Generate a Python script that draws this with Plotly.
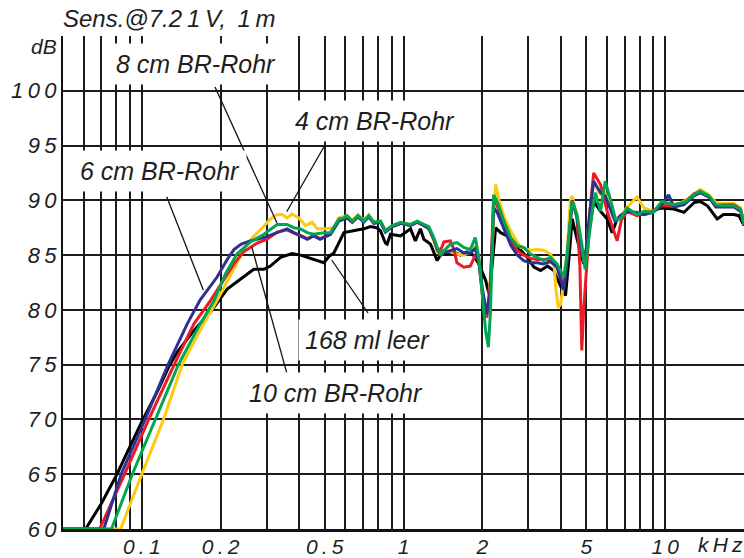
import math
import plotly.graph_objects as go

# ---------------- data (frequency in kHz, level in dB) ----------------
leer_168ml = [(0.05,60),(0.061,60),(0.07,62.3),(0.0804,65),(0.09,67.5),(0.101,70),(0.115,72.6),(0.128,75),
    (0.137,76.2),(0.158,78.1),(0.183,79.8),(0.212,81.9),(0.238,82.8),(0.268,83.7),(0.293,83.7),(0.31,84.0),
    (0.339,84.8),(0.375,85.15),(0.404,85.0),(0.454,84.6),(0.496,84.3),(0.52,84.9),(0.542,85.2),(0.592,87.05),
    (0.646,87.2),(0.705,87.4),(0.748,87.6),(0.79,87.5),(0.817,87.2),(0.853,86.1),(0.866,86.0),(0.892,86.9),
    (0.974,86.75),(1.064,87.4),(1.11,86.3),(1.16,87.4),(1.196,86.45),(1.268,86.0),(1.345,84.5),(1.4,85.2),
    (1.47,85.1),(1.55,85.3),(1.65,85.0),(1.75,85.3),(1.85,85.0),(1.94,84.2),(2.06,82.7),(2.12,81.45),
    (2.16,83.0),(2.25,87.5),(2.35,87.05),(2.49,86.75),(2.64,86.15),(2.8,85.5),(2.97,84.8),(3.15,83.9),
    (3.34,83.6),(3.55,84.0),(3.75,83.6),(3.98,82.2),(4.16,81.3),(4.3,85.0),(4.41,88.3),(4.6,86.5),
    (4.88,84.2),(5.03,86.0),(5.33,89.9),(5.66,89.0),(6.0,88.3),(6.27,87.05),(6.55,88.3),(7.16,89.0),
    (8.05,88.7),(8.8,89.0),(9.63,89.3),(10.8,89.2),(11.8,88.9),(12.9,89.8),(13.6,89.9),(14.5,89.5),
    (15.8,88.3),(16.7,88.7),(18.3,88.7),(19.1,88.6),(20,87.7)]

rohr_4cm = [(0.05,60),(0.083,60),(0.1,65),(0.121,70),(0.1427,75),(0.172,78.7),(0.194,80.85),(0.212,82.6),
    (0.231,84.3),(0.252,86.0),(0.27,86.8),(0.284,87.3),(0.31,88.3),(0.329,88.7),(0.344,88.7),(0.359,88.4),
    (0.375,88.75),(0.398,88.4),(0.422,87.7),(0.448,88.0),(0.468,87.4),(0.503,87.4),(0.542,87.5),(0.566,88.4),
    (0.609,88.6),(0.637,88.2),(0.67,88.7),(0.705,88.2),(0.737,88.7),(0.77,88.0),(0.817,88.1),(0.853,87.3),
    (0.905,87.6),(0.974,87.9),(1.064,87.7),(1.128,88.0),(1.196,87.7),(1.25,87.4),(1.306,86.3),(1.345,85.3),
    (1.39,85.0),(1.426,85.3),(1.51,85.3),(1.6,85.1),(1.7,85.0),(1.8,85.3),(1.88,85.8),(1.94,84.6),
    (2.0,81.5),(2.08,79.3),(2.15,83.0),(2.25,91.45),(2.32,90.0),(2.42,88.5),(2.57,87.2),(2.8,85.7),
    (3.06,85.45),(3.24,85.5),(3.43,85.45),(3.64,85.1),(3.75,84.5),(3.82,82.0),(3.9,80.2),(3.98,80.5),
    (4.1,82.5),(4.22,85.5),(4.34,90.0),(4.41,90.4),(4.6,88.6),(4.8,85.5),(4.94,84.0),(5.15,89.0),
    (5.33,91.6),(5.66,90.5),(5.9,90.6),(6.19,89.5),(6.45,88.3),(6.73,88.5),(7.16,89.4),(7.8,90.3),
    (8.3,89.3),(9.0,89.0),(9.7,89.8),(10.8,89.6),(11.8,89.9),(12.9,90.6),(13.6,91.0),(14.7,90.5),
    (15.6,89.8),(16.7,89.7),(18.3,89.7),(19.4,89.3),(20,87.8)]

rohr_10cm = [(0.05,60),(0.069,60),(0.086,65),(0.1063,70),(0.133,75),(0.158,78.7),(0.183,80.85),(0.209,83.0),
    (0.225,84.2),(0.245,85.3),(0.276,86.1),(0.301,86.45),(0.329,87.1),(0.359,87.3),(0.381,87.0),(0.404,86.8),
    (0.429,86.5),(0.454,86.8),(0.48,86.5),(0.526,86.9),(0.566,88.2),(0.609,88.4),(0.637,88.0),(0.67,88.5),
    (0.705,88.1),(0.737,88.5),(0.77,88.0),(0.817,88.0),(0.853,87.2),(0.905,87.6),(0.974,87.9),(1.064,87.7),
    (1.128,88.0),(1.196,87.7),(1.25,87.5),(1.306,86.4),(1.345,85.6),(1.39,85.5),(1.426,86.2),(1.51,86.3),
    (1.56,85.5),(1.6,84.3),(1.7,83.9),(1.8,84.0),(1.88,85.0),(1.94,84.5),(2.0,81.5),(2.08,79.3),
    (2.15,82.5),(2.21,90.3),(2.28,89.5),(2.42,87.6),(2.57,86.2),(2.72,85.4),(2.88,85.0),(3.06,84.7),
    (3.24,84.6),(3.43,84.6),(3.64,84.6),(3.86,84.0),(4.1,82.1),(4.22,84.8),(4.41,89.9),(4.6,88.5),
    (4.72,84.0),(4.8,76.3),(4.88,80.0),(5.03,84.5),(5.2,90.0),(5.33,92.5),(5.66,91.45),(6.0,89.0),
    (6.3,87.5),(6.55,86.3),(6.8,88.2),(7.16,89.0),(7.8,88.6),(8.3,88.8),(9.0,89.0),(9.7,89.5),
    (10.8,89.5),(11.8,89.7),(12.9,90.6),(13.6,90.8),(14.7,90.3),(15.6,89.5),(16.7,89.6),(18.3,89.6),
    (19.4,89.2),(20,87.8)]

rohr_6cm = [(0.05,60),(0.0716,60),(0.0834,65),(0.103,70),(0.126,75),(0.149,78.7),(0.167,80.9),(0.194,83.0),
    (0.212,84.6),(0.225,85.5),(0.24,86.0),(0.26,86.3),(0.293,86.6),(0.329,87.05),(0.359,87.4),(0.381,87.05),
    (0.404,86.75),(0.429,86.45),(0.454,86.75),(0.48,86.45),(0.526,86.9),(0.566,88.1),(0.609,88.4),(0.637,88.0),
    (0.67,88.5),(0.705,88.0),(0.737,88.5),(0.77,87.9),(0.817,88.0),(0.853,87.1),(0.905,87.6),(0.974,87.9),
    (1.064,87.7),(1.128,88.0),(1.196,87.7),(1.25,87.4),(1.306,86.5),(1.345,85.5),(1.39,85.0),(1.426,85.2),
    (1.51,85.4),(1.6,85.6),(1.7,85.2),(1.8,85.2),(1.88,85.6),(1.94,84.4),(2.0,82.0),(2.08,79.6),
    (2.15,82.0),(2.21,89.3),(2.28,88.9),(2.42,87.4),(2.57,85.9),(2.72,85.0),(2.88,84.5),(3.06,84.3),
    (3.24,84.3),(3.43,84.2),(3.64,84.4),(3.86,83.9),(4.1,81.8),(4.22,84.5),(4.41,90.0),(4.6,88.5),
    (4.8,85.5),(4.94,84.2),(5.15,89.0),(5.33,91.75),(5.66,90.7),(5.9,90.4),(6.19,89.2),(6.45,88.0),
    (6.73,88.6),(7.16,89.0),(7.8,88.9),(8.3,88.7),(9.0,88.9),(9.7,89.6),(10.3,90.5),(10.8,89.4),
    (11.8,89.6),(12.9,90.4),(13.6,90.7),(14.7,90.3),(15.6,89.4),(16.7,89.4),(18.3,89.4),(19.4,89.0),
    (20,87.8)]

rohr_8cm = [(0.05,60),(0.0766,60),(0.092,65),(0.113,70),(0.138,75),(0.167,78.7),(0.189,80.85),(0.209,83.3),
    (0.231,85.1),(0.26,86.2),(0.293,86.9),(0.329,87.8),(0.359,87.8),(0.381,87.5),(0.404,87.4),(0.429,87.05),
    (0.454,86.9),(0.496,87.05),(0.526,87.05),(0.566,88.3),(0.592,88.4),(0.609,88.6),(0.637,88.1),(0.67,88.6),
    (0.705,88.1),(0.737,88.6),(0.77,88.0),(0.817,88.1),(0.853,87.2),(0.905,87.7),(0.974,88.0),(1.064,87.8),
    (1.128,88.1),(1.196,87.8),(1.25,87.6),(1.306,86.6),(1.345,85.7),(1.39,85.1),(1.426,85.4),(1.51,86.0),
    (1.6,86.15),(1.7,85.7),(1.8,85.5),(1.88,86.6),(1.94,84.8),(2.0,81.1),(2.06,78.1),(2.11,76.6),
    (2.15,79.9),(2.21,90.5),(2.28,89.9),(2.42,88.1),(2.57,86.6),(2.72,85.85),(2.88,85.7),(3.06,85.1),
    (3.24,84.8),(3.43,84.5),(3.64,84.8),(3.86,84.2),(4.1,83.0),(4.22,85.1),(4.41,89.9),(4.6,88.7),
    (4.8,86.0),(4.94,83.7),(5.26,89.0),(5.41,90.7),(5.66,89.0),(5.9,91.75),(6.19,90.0),(6.45,88.3),
    (6.73,88.3),(7.16,89.3),(7.8,88.7),(8.3,89.0),(9.0,88.9),(9.7,89.9),(10.8,89.6),(11.8,89.8),
    (12.9,90.5),(13.6,90.85),(14.7,90.4),(15.6,89.6),(16.7,89.5),(18.3,89.5),(19.4,89.2),(20,87.8)]

series = [
    ("168 ml leer", leer_168ml, "#000000"),
    ("4 cm BR-Rohr", rohr_4cm, "#FFC90E"),
    ("10 cm BR-Rohr", rohr_10cm, "#EC1C24"),
    ("6 cm BR-Rohr", rohr_6cm, "#2E3192"),
    ("8 cm BR-Rohr", rohr_8cm, "#00A651"),
]

x_grid = [0.05, 0.06, 0.07, 0.08, 0.09, 0.1, 0.2, 0.3, 0.4, 0.5, 0.6, 0.7, 0.8, 0.9,
          1, 2, 3, 4, 5, 6, 7, 8, 9, 10, 20]
x_labels = {0.1: "0.1", 0.2: "0.2", 0.5: "0.5", 1: "1", 2: "2", 5: "5", 10: "10"}
y_grid = [60, 65, 70, 75, 80, 85, 90, 95, 100, 105]
y_labels = {60: "60", 65: "65", 70: "70", 75: "75", 80: "80", 85: "85", 90: "90", 95: "95", 100: "100"}

TS = "\u2009"  # thin space for the wide letter spacing
def spaced(s):
    return TS.join(list(s))

# ---------------- figure ----------------
W, H = 744, 558
L, R, T, B = 63, 0, 36, 29
pw, ph = W - L - R, H - T - B
def pxx(x):
    return (x - L) / pw
def pxy(y):
    return 1 - (y - T) / ph

fig = go.Figure()
for name, pts, col in series:
    fx, fy = zip(*pts)
    fig.add_trace(go.Scatter(x=list(fx), y=list(fy), mode="lines", name=name,
                             line=dict(color=col, width=3), hoverinfo="skip"))

grid_col = "#1c1c1c"
txt_col = "#1e1e1e"
fig.update_layout(
    width=W, height=H, showlegend=False,
    margin=dict(l=L, r=R, t=T, b=B),
    plot_bgcolor="white", paper_bgcolor="white",
    xaxis=dict(type="log", range=[math.log10(0.05), math.log10(20)],
               tickvals=x_grid, ticktext=[spaced(x_labels.get(v, "")) for v in x_grid],
               showgrid=True, gridcolor=grid_col, gridwidth=2, zeroline=False,
               showline=True, linecolor="#111111", linewidth=3, ticks="", ticklen=0,
               ticklabelstandoff=-3,
               layer="below traces", automargin=False,
               tickfont=dict(family="Liberation Sans", size=21, color=txt_col, style="italic")),
    yaxis=dict(range=[60, 105], tickvals=y_grid,
               ticktext=[spaced(y_labels.get(v, "")) for v in y_grid],
               showgrid=True, gridcolor=grid_col, gridwidth=2, zeroline=False,
               showline=True, linecolor="#111111", linewidth=2, ticks="", automargin=False,
               tickfont=dict(family="Liberation Sans", size=22, color=txt_col, style="italic")),
)

lab_font = dict(family="Liberation Sans", size=25, color=txt_col, style="italic")
labels = [
    ("8 cm BR-Rohr", 196, 64),
    ("4 cm BR-Rohr", 375, 121),
    ("6 cm BR-Rohr", 160, 171),
    ("168 ml leer", 367.5, 340),
    ("10 cm BR-Rohr", 335.5, 393),
]
for text, cx, cy in labels:
    fig.add_annotation(text=text, xref="paper", yref="paper", x=pxx(cx), y=pxy(cy),
                       xanchor="center", yanchor="middle", showarrow=False,
                       font=lab_font, bgcolor="white", borderpad=6)

pointers = [
    (215, 87, 277, 223),
    (325, 145, 286.7, 211.7),
    (166.7, 196.7, 203.3, 290),
    (368, 313, 331.7, 260),
    (286.7, 372.7, 251.7, 246.7),
]
for x0, y0, x1, y1 in pointers:
    fig.add_shape(type="line", xref="paper", yref="paper",
                  x0=pxx(x0), y0=pxy(y0), x1=pxx(x1), y1=pxy(y1),
                  line=dict(color="#111111", width=1.3), layer="above")

fig.add_annotation(text="Sens.@7.2" + TS + "1" + TS + "V," + TS + " 1" + TS + "m",
                   xref="paper", yref="paper",
                   x=pxx(61), y=pxy(18), xanchor="left", yanchor="middle", showarrow=False,
                   font=dict(family="Liberation Sans", size=24, color=txt_col, style="italic"))
fig.add_annotation(text="dB", xref="paper", yref="paper", x=pxx(59), y=pxy(47),
                   xanchor="right", yanchor="middle", showarrow=False,
                   font=dict(family="Liberation Sans", size=21, color=txt_col, style="italic"))
fig.add_annotation(text=spaced("kHz"), xref="paper", yref="paper", x=pxx(720), y=pxy(544),
                   xanchor="center", yanchor="middle", showarrow=False,
                   font=dict(family="Liberation Sans", size=21, color=txt_col, style="italic"))

fig.write_html("out.html", config={"displayModeBar": False},
               post_script="document.body.style.margin='0';document.body.style.padding='0';")
